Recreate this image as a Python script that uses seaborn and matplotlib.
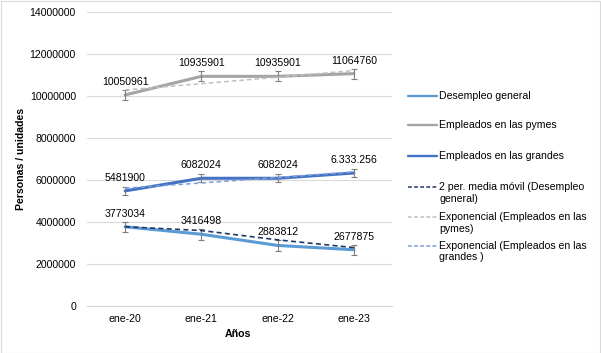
import numpy as np
import pandas as pd
import matplotlib
matplotlib.use("Agg")
import matplotlib.pyplot as plt
import seaborn as sns
from matplotlib.lines import Line2D
from matplotlib.patches import Rectangle

# ---------------- data ----------------
categories = ["ene-20", "ene-21", "ene-22", "ene-23"]
desempleo = [3773034, 3416498, 2883812, 2677875]
pymes = [10050961, 10935901, 10935901, 11064760]
grandes = [5481900, 6082024, 6082024, 6333256]
labels_desempleo = ["3773034", "3416498", "2883812", "2677875"]
labels_pymes = ["10050961", "10935901", "10935901", "11064760"]
labels_grandes = ["5481900", "6082024", "6082024", "6.333.256"]
err_desempleo = 250000
err_pymes = 235000
err_grandes = 180000
yticks = [0, 2000000, 4000000, 6000000, 8000000, 10000000, 12000000, 14000000]
series_names = ["Desempleo general", "Empleados en las pymes", "Empleados en las grandes"]
trend_names = ["2 per. media móvil (Desempleo\ngeneral)",
               "Exponencial (Empleados en las\npymes)",
               "Exponencial (Empleados en las\ngrandes )"]

# ---------------- style ----------------
sns.set_theme(style="white")
plt.rcParams["font.family"] = ["Liberation Sans", "DejaVu Sans"]
FS = 7.6
TXT = "#000000"
C_DES = "#5B9BD5"
C_PYM = "#A5A5A5"
C_GRA = "#4472C4"
C_MA = "#1F3864"
C_TPY = "#BFBFBF"
C_TGR = "#7F9FDB"
GRID = "#D9D9D9"

W, H = 601, 353
fig = plt.figure(figsize=(W / 100, H / 100), dpi=100)
L, R, T, B = 87, 392, 12, 306
ax = fig.add_axes([L / W, 1 - B / H, (R - L) / W, (B - T) / H])

pos = np.arange(len(categories))
df = pd.DataFrame({
    "pos": np.tile(pos, 3),
    "valor": desempleo + pymes + grandes,
    "serie": np.repeat(series_names, len(categories)),
})
palette = {series_names[0]: C_DES, series_names[1]: C_PYM, series_names[2]: C_GRA}
sns.lineplot(data=df, x="pos", y="valor", hue="serie", hue_order=series_names,
             palette=palette, linewidth=2.2, legend=False, ax=ax, zorder=3)

# error bars
for vals, e in [(desempleo, err_desempleo), (pymes, err_pymes), (grandes, err_grandes)]:
    ax.errorbar(pos, vals, yerr=e, fmt="none", ecolor="#7F7F7F", elinewidth=0.8,
                capsize=2.3, capthick=0.8, zorder=4)

# trend lines
ma = pd.Series(desempleo).rolling(2, min_periods=1).mean().values
xfit = pos + 1
def expfit(vals):
    b, a = np.polyfit(xfit, np.log(vals), 1)
    return np.exp(a + b * xfit)
trends = [(ma, C_MA, 1.2), (expfit(pymes), C_TPY, 1.1), (expfit(grandes), C_TGR, 1.1)]
for vals, col, lw in trends:
    sns.lineplot(x=pos, y=vals, color=col, linewidth=lw, ax=ax, zorder=5, legend=False)
    ax.lines[-1].set_dashes([3, 2])

# data labels
for vals, labs in [(desempleo, labels_desempleo), (pymes, labels_pymes), (grandes, labels_grandes)]:
    for i, (v, t) in enumerate(zip(vals, labs)):
        ax.annotate(t, (pos[i], v), xytext=(0, 9.4), textcoords="offset points",
                    ha="center", va="center", fontsize=FS, color=TXT, zorder=6)

# axes styling
ax.set_xlim(-0.5, len(categories) - 0.5)
ax.set_ylim(0, 14000000)
ax.set_yticks(yticks)
ax.set_yticklabels([str(v) for v in yticks], fontsize=FS, color=TXT)
ax.set_xticks(pos)
ax.set_xticklabels(categories, fontsize=FS, color=TXT)
ax.set_xticks(np.arange(-0.5, len(categories), 1.0), minor=True)
ax.tick_params(axis="x", which="major", length=0, pad=6)
ax.tick_params(axis="x", which="minor", length=4, color=GRID, width=0.8)
ax.tick_params(axis="y", length=0, pad=8)
ax.set_xlabel("")
ax.set_ylabel("")
ax.grid(axis="y", color=GRID, linewidth=0.8)
ax.set_axisbelow(True)
for s in ["top", "right", "left"]:
    ax.spines[s].set_visible(False)
ax.spines["bottom"].set_color(GRID)
ax.spines["bottom"].set_linewidth(0.8)

fig.text(21 / W, 1 - 159 / H, "Personas / unidades", rotation=90, ha="center",
         va="center", fontsize=FS, fontweight="bold", color=TXT)
fig.text(238 / W, 1 - 334 / H, "Años", ha="center", va="center", fontsize=FS,
         fontweight="bold", color=TXT)

# legend (manual, Excel-like)
entries = [
    (C_DES, False, series_names[0], 96),
    (C_PYM, False, series_names[1], 125),
    (C_GRA, False, series_names[2], 156),
    (C_MA, True, trend_names[0], 187),
    (C_TPY, True, trend_names[1], 217),
    (C_TGR, True, trend_names[2], 246),
]
for col, dashed, text, y in entries:
    ln = Line2D([408 / W, 437 / W], [1 - y / H, 1 - y / H], transform=fig.transFigure,
                color=col, linewidth=1.1 if dashed else 1.7)
    if dashed:
        ln.set_dashes([2.5, 1.5])
    fig.add_artist(ln)
    for k, part in enumerate(text.split("\n")):
        fig.text(439 / W, 1 - (y + 11.5 * k) / H, part, ha="left", va="center",
                 fontsize=FS, color=TXT)

fig.add_artist(Rectangle((0.5 / W, 0.5 / H), 1 - 1.5 / W, 1 - 1.5 / H,
                         transform=fig.transFigure, fill=False, edgecolor=GRID, linewidth=0.8))

fig.savefig("out.png", dpi=100)
